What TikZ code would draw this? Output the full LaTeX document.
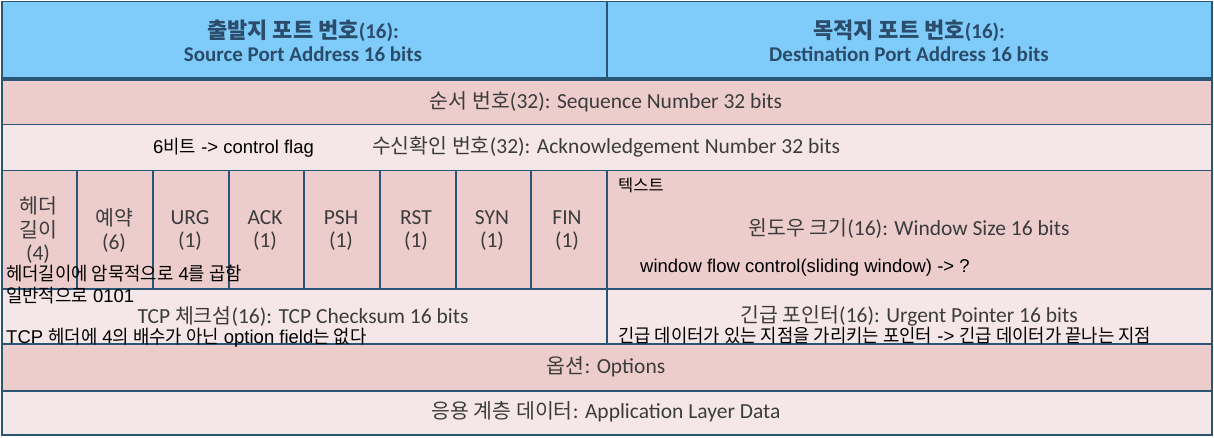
\documentclass[tikz,border=0pt]{standalone}
\usepackage{fontspec}
\setmainfont{Carlito}
\newfontfamily\kr{Noto Sans CJK KR}
\newfontfamily\krn[FakeStretch=0.96]{Noto Sans CJK KR}
\newfontfamily\ann{Liberation Sans}
\newcommand\korlbl[1]{{\kr\fontsize{20.5}{23.5}\selectfont #1}}
\newcommand\korhdr[1]{{\kr\fontsize{22}{23}\selectfont #1}}
\definecolor{hdrblue}{HTML}{7FCCFA}
\definecolor{pinkA}{HTML}{ECCDCC}
\definecolor{pinkB}{HTML}{F5E7E7}
\definecolor{gridline}{HTML}{2B5575}
\definecolor{hdrtext}{HTML}{2B4C6B}
\definecolor{lbltext}{HTML}{3C3C3C}
\begin{document}
\begin{tikzpicture}[x=1pt,y=-1pt,
  cell/.style={rectangle,draw=gridline,line width=1.5pt,inner sep=0pt,anchor=north west},
  hdr/.style={font=\fontsize{21}{23}\selectfont\bfseries,text=hdrtext,align=center,inner sep=0pt},
  lbl/.style={font=\fontsize{21.5}{23.5}\selectfont,text=lbltext,align=center,inner sep=0pt},
  note/.style={font=\ann\fontsize{18.5}{20}\selectfont,text=black,inner sep=0pt,anchor=west}]
\useasboundingbox (0,0) rectangle (1214,438);
% cells
\node[cell,fill=hdrblue,minimum width=605pt,minimum height=77pt] (src) at (1,1) {};
\node[cell,fill=hdrblue,minimum width=605pt,minimum height=77pt] (dst) at (606,1) {};
\node[cell,fill=pinkA,minimum width=1210pt,minimum height=46pt] (seq) at (1,78) {};
\node[cell,fill=pinkB,minimum width=1210pt,minimum height=46pt] (ackn) at (1,124) {};
\node[cell,fill=pinkA,minimum width=75pt,minimum height=118pt] (hlen) at (1,170) {};
\node[cell,fill=pinkA,minimum width=76pt,minimum height=118pt] (res) at (76,170) {};
\node[cell,fill=pinkA,minimum width=76pt,minimum height=118pt] (urg) at (152,170) {};
\node[cell,fill=pinkA,minimum width=75pt,minimum height=118pt] (ack) at (228,170) {};
\node[cell,fill=pinkA,minimum width=76pt,minimum height=118pt] (psh) at (303,170) {};
\node[cell,fill=pinkA,minimum width=76pt,minimum height=118pt] (rst) at (379,170) {};
\node[cell,fill=pinkA,minimum width=75pt,minimum height=118pt] (syn) at (455,170) {};
\node[cell,fill=pinkA,minimum width=76pt,minimum height=118pt] (fin) at (530,170) {};
\node[cell,fill=pinkA,minimum width=605pt,minimum height=118pt] (win) at (606,170) {};
\node[cell,fill=pinkB,minimum width=605pt,minimum height=55pt] (chk) at (1,288) {};
\node[cell,fill=pinkB,minimum width=605pt,minimum height=55pt] (urp) at (606,288) {};
\node[cell,fill=pinkA,minimum width=1210pt,minimum height=47pt] (opt) at (1,343) {};
\node[cell,fill=pinkB,minimum width=1210pt,minimum height=44pt] (data) at (1,390) {};
\draw[gridline,line width=4pt] (src.south west) -- (dst.south east);
% header texts
\node[hdr] (srct) at (303,40.5) {\korhdr{\bfseries 출발지 포트 번호}(16):\\Source Port Address 16 bits};
\node[hdr] (dstt) at (909,40.5) {\korhdr{\bfseries 목적지 포트 번호}(16):\\Destination Port Address 16 bits};
% labels
\node[lbl] (seqt) at (606,102) {\korlbl{순서 번호}(32): Sequence Number 32 bits};
\node[lbl] (ackt) at (606,147) {\korlbl{수신확인 번호}(32): Acknowledgement Number 32 bits};
\node[lbl] (hlent) at (38,230.5) {\korlbl{헤더}\\\korlbl{길이}\\(4)};
\node[lbl] (rest) at (114,230.5) {\korlbl{예약}\\(6)};
\node[lbl] (urgt) at (190,230.5) {URG\\(1)};
\node[lbl] (ackft) at (265,230.5) {ACK\\(1)};
\node[lbl] (psht) at (341,230.5) {PSH\\(1)};
\node[lbl] (rstt) at (416,230.5) {RST\\(1)};
\node[lbl] (synt) at (492,230.5) {SYN\\(1)};
\node[lbl] (fint) at (567,230.5) {FIN\\(1)};
\node[lbl] (wint) at (909,229) {\korlbl{윈도우 크기}(16): Window Size 16 bits};
\node[lbl] (chkt) at (303,317) {TCP \korlbl{체크섬}(16): TCP Checksum 16 bits};
\node[lbl] (urpt) at (909,316) {\korlbl{긴급 포인터}(16): Urgent Pointer 16 bits};
\node[lbl] (optt) at (606,367) {\korlbl{옵션}: Options};
\node[lbl] (datat) at (606,412) {\korlbl{응용 계층 데이터}: Application Layer Data};
% annotations
\node[note] (n1) at (153,148) {6{\krn 비트} -> control flag};
\node[note,font=\kr\fontsize{16.5}{18}\selectfont] (n2) at (618,185) {텍스트};
\node[note] (n3) at (640,268) {window flow control(sliding window) -> ?};
\node[note] (n4) at (6,274) {{\krn 헤더길이에 암묵적으로} 4{\krn 를 곱함}};
\node[note] (n5) at (6,296) {{\krn 일반적으로} 0101};
\node[note] (n6) at (6,338) {TCP {\krn 헤더에} 4{\krn 의 배수가 아닌} option field{\krn 는 없다}};
\node[note] (n7) at (618,336) {{\krn 긴급 데이터가 있는 지점을 가리키는 포인터} -> {\krn 긴급 데이터가 끝나는 지점}};
\end{tikzpicture}
\end{document}
